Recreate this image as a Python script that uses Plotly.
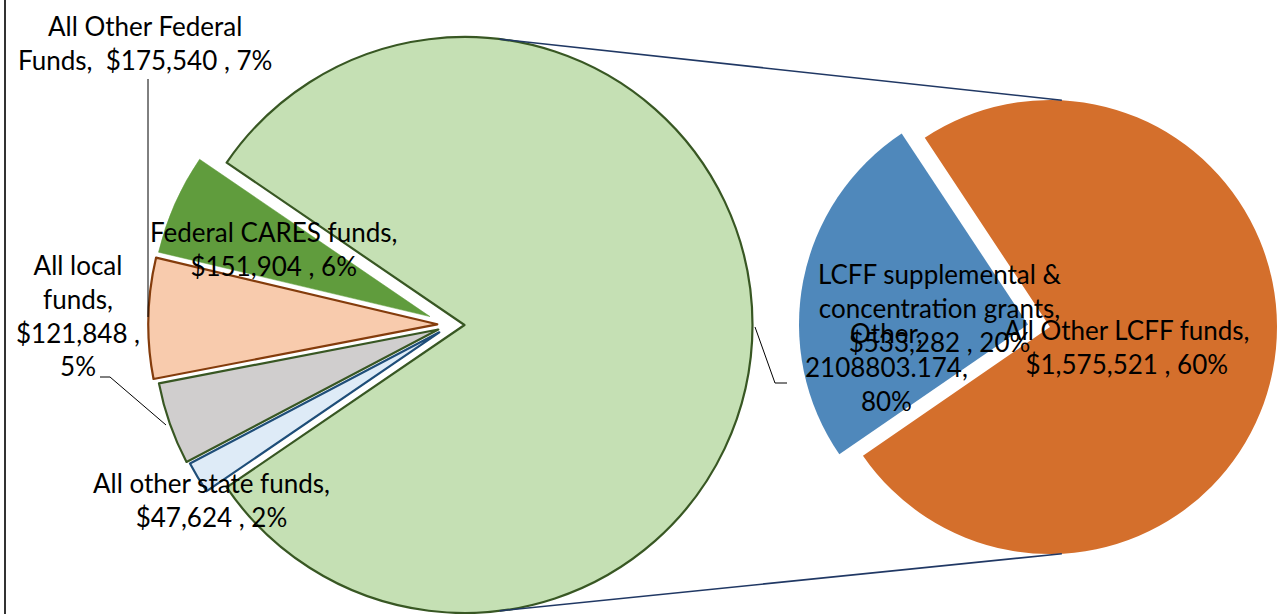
import math
import plotly.graph_objects as go

# ---------------- data ----------------
main_labels = ["Other", "Federal CARES funds", "All Other Federal Funds",
               "All local funds", "All other state funds"]
main_values = [2108803.174, 151904, 175540, 121848, 47624]
main_pct = [80, 6, 7, 5, 2]

sec_labels = ["LCFF supplemental & concentration grants", "All Other LCFF funds"]
sec_values = [533282, 1575521]
sec_pct = [20, 60]

# ---------------- layout / style ----------------
W, H = 1277, 614
FONT = dict(family="Lato, Calibri, 'Open Sans', sans-serif", size=26, color="#000000")

# per-slice drawing style for the main pie: fill, border, border width,
# slice apex (px) and radius (px)
MAIN_STYLE = [
    dict(fill="#C5E0B4", line="#385723", lw=2.2, c=(464.5, 325.0), r=288),
    dict(fill="#609C3D", line="#609C3D", lw=0.5, c=(430.0, 316.6), r=279),
    dict(fill="#F8CBAD", line="#843C0C", lw=2.2, c=(437.3, 324.3), r=289),
    dict(fill="#D0CECE", line="#385723", lw=2.2, c=(438.3, 329.5), r=289),
    dict(fill="#DEEBF7", line="#1F4E79", lw=2.2, c=(439.3, 332.3), r=289),
]
SEC_STYLE = [
    dict(fill="#4F88BB", line="#4F88BB", lw=0, c=(1028.0, 324.5), r=229),
    dict(fill="#D46F2C", line="#D46F2C", lw=0, c=(1050.0, 327.0), r=229),
]
SEC_FIRST_MID_DEG = 169.0   # math angle of the middle of the first secondary slice

# label templates (line wrapping) and centre positions in px
MAIN_TEXT = [
    dict(tpl="{n},<br>{v},<br>{p}%", pos=(886, 367), raw=True),
    dict(tpl="{n},<br>${v} , {p}%", pos=(273, 249)),
    dict(tpl="All Other Federal<br>Funds,  ${v} , {p}%", pos=(145, 43)),
    dict(tpl="All local<br>funds,<br>${v} ,<br>{p}%", pos=(78, 315)),
    dict(tpl="{n},<br>${v} , {p}%", pos=(211, 500)),
]
SEC_TEXT = [
    dict(tpl="LCFF supplemental &<br>concentration grants,<br>${v} , {p}%", pos=(940, 308)),
    dict(tpl="{n},<br>${v} , {p}%", pos=(1127, 347)),
]

TRANSPARENT = "rgba(0,0,0,0)"


def domain_for(cx, cy, r):
    r = min(r, cx, W - cx, cy, H - cy)
    return dict(x=[(cx - r) / W, (cx + r) / W], y=[1 - (cy + r) / H, 1 - (cy - r) / H]), r


def px(x, y):
    return x / W, 1 - y / H


fig = go.Figure()


def add_pie(labels, values, styles, rotation):
    n = len(values)
    for k, st in enumerate(styles):
        dom, _ = domain_for(st["c"][0], st["c"][1], st["r"])
        fig.add_trace(go.Pie(
            labels=labels, values=values, sort=False,
            direction="counterclockwise", rotation=rotation,
            domain=dom, textinfo="none", hoverinfo="skip",
            showlegend=False,
            marker=dict(
                colors=[st["fill"] if i == k else TRANSPARENT for i in range(n)],
                line=dict(color=[st["line"] if i == k else TRANSPARENT for i in range(n)],
                          width=[st["lw"] if i == k else 0 for i in range(n)]),
            ),
        ))


main_total = sum(main_values)
# first slice ("Other") centred on the right-hand side (math angle 0)
main_rotation = 90 - 180 * main_values[0] / main_total
add_pie(main_labels, main_values, MAIN_STYLE, main_rotation)

sec_total = sum(sec_values)
sec_rotation = 90 - (SEC_FIRST_MID_DEG + 180 * sec_values[0] / sec_total)
add_pie(sec_labels, sec_values, SEC_STYLE, sec_rotation)

# ---------------- labels ----------------
annotations = []
for lab, val, pct, st in zip(main_labels, main_values, main_pct, MAIN_TEXT):
    v = f"{val:.3f}" if st.get("raw") else f"{val:,.0f}"
    txt = st["tpl"].format(n=lab, v=v, p=pct)
    x, y = px(*st["pos"])
    annotations.append(dict(text=txt, x=x, y=y, xref="paper", yref="paper",
                            showarrow=False, xanchor="center", yanchor="middle",
                            align="center", font=FONT))
for lab, val, pct, st in zip(sec_labels, sec_values, sec_pct, SEC_TEXT):
    txt = st["tpl"].format(n=lab, v=f"{val:,.0f}", p=pct)
    x, y = px(*st["pos"])
    annotations.append(dict(text=txt, x=x, y=y, xref="paper", yref="paper",
                            showarrow=False, xanchor="center", yanchor="middle",
                            align="center", font=FONT))

# ---------------- shapes ----------------


def path(points):
    s = ""
    for i, (x, y) in enumerate(points):
        fx, fy = px(x, y)
        s += ("M" if i == 0 else " L") + f" {fx:.5f},{fy:.5f}"
    return s


shapes = []
# connector lines between the two pies (computed from pie geometry)
mcx, mcy = MAIN_STYLE[0]["c"]
mr = MAIN_STYLE[0]["r"]
o = SEC_STYLE[1]
_, orr = domain_for(o["c"][0], o["c"][1], o["r"])
ocx, ocy = o["c"]
for sgn in (1, -1):
    a1 = math.radians(83 * sgn)
    a2 = math.radians(87 * sgn)
    p1 = (mcx + mr * math.cos(a1), mcy - mr * math.sin(a1))
    p2 = (ocx + orr * math.cos(a2), ocy - orr * math.sin(a2))
    shapes.append(dict(type="path", path=path([p1, p2]), xref="paper", yref="paper",
                       line=dict(color="#203864", width=1.6)))

# label leader lines
for pts in ([(148, 79), (148, 317)],
            [(100, 377), (110, 377), (166, 425)],
            [(755, 327), (775, 383), (787, 383)]):
    shapes.append(dict(type="path", path=path(pts), xref="paper", yref="paper",
                       line=dict(color="#000000", width=1)))

# chart frame (left edge visible)
shapes.append(dict(type="line", x0=5 / W, x1=5 / W, y0=0, y1=1, xref="paper", yref="paper",
                   line=dict(color="#333333", width=2)))

fig.update_layout(
    width=W, height=H,
    margin=dict(l=0, r=0, t=0, b=0, pad=0),
    paper_bgcolor="#FFFFFF", plot_bgcolor="#FFFFFF",
    showlegend=False,
    annotations=annotations,
    shapes=shapes,
)

fig.write_html(
    "out.html",
    config={"displayModeBar": False},
    post_script="document.body.style.margin='0';document.body.style.overflow='hidden';",
)
